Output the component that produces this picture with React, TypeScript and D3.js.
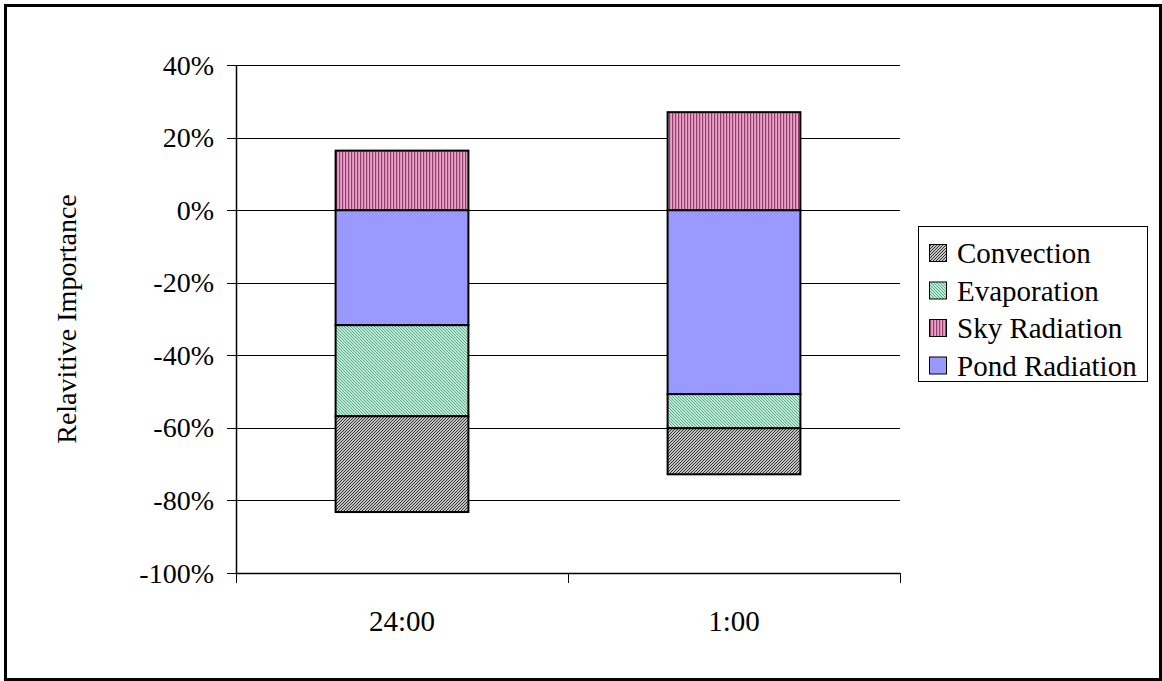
import React from "react";
import * as d3 from "d3";

const categories = ["24:00", "1:00"];
const convection = [-26.4, -12.7];
const evaporation = [-25.1, -9.4];
const skyRadiation = [16.4, 27.0];
const pondRadiation = [-31.7, -50.7];
const yTicks = [40, 20, 0, -20, -40, -60, -80, -100];
const legendItems = ["Convection", "Evaporation", "Sky Radiation", "Pond Radiation"];

const W = 1162;
const H = 681;
const plot = { left: 236, right: 900, top: 65, bottom: 573 };
const FONT = "'Times New Roman', 'Liberation Serif', Times, serif";

type Row = { cat: string; pond: number; evap: number; conv: number; sky: number };
const rows: Row[] = categories.map((c, i) => ({
  cat: c,
  pond: pondRadiation[i],
  evap: evaporation[i],
  conv: convection[i],
  sky: skyRadiation[i],
}));

const keys = ["pond", "evap", "conv", "sky"] as const;
const fills: Record<string, string> = {
  pond: "#9999ff",
  evap: "url(#pEvap)",
  conv: "url(#pConv)",
  sky: "url(#pSky)",
};
const legendFill: Record<string, string> = {
  Convection: "url(#pConv)",
  Evaporation: "url(#pEvap)",
  "Sky Radiation": "url(#pSky)",
  "Pond Radiation": "#9999ff",
};

export default function App() {
  const x = d3.scaleBand<string>().domain(categories).range([plot.left, plot.right]).padding(0);
  const y = d3.scaleLinear().domain([-100, 40]).range([plot.bottom, plot.top]);
  const barW = x.bandwidth() * 0.4;

  const stack = d3
    .stack<Row>()
    .keys(keys as unknown as string[])
    .offset(d3.stackOffsetDiverging);
  const series = stack(rows);

  const catTicks = [plot.left, ...categories.map((c) => (x(c) as number) + x.bandwidth())];
  const textStyle = { fontFamily: FONT };

  return (
    <svg
      width={W}
      height={H}
      style={{ position: "absolute", left: 0, top: 0, background: "#fff", fontFamily: FONT }}
    >
      <defs>
        <pattern id="pConv" width="3" height="3" patternUnits="userSpaceOnUse">
          <rect width="3" height="3" fill="#fff" />
          <path d="M-1,1 l2,-2 M0,3 l3,-3 M2,4 l2,-2" stroke="#2a2a2a" strokeWidth="1.1" />
        </pattern>
        <pattern id="pEvap" width="3" height="3" patternUnits="userSpaceOnUse">
          <rect width="3" height="3" fill="#fff" />
          <path d="M-1,2 l2,2 M0,0 l3,3 M2,-1 l2,2" stroke="#3fae80" strokeWidth="1.1" />
        </pattern>
        <pattern id="pSky" width="3" height="4" patternUnits="userSpaceOnUse">
          <rect width="3" height="4" fill="#e4a6c8" />
          <rect x="0" width="1.2" height="4" fill="#9a3a6c" />
        </pattern>
      </defs>

      <rect x={5.5} y={5.5} width={1155} height={674} fill="#fff" stroke="#000" strokeWidth={3} />

      {/* gridlines */}
      {yTicks.map((t) => (
        <line
          key={"g" + t}
          x1={plot.left}
          x2={plot.right}
          y1={Math.round(y(t)) + 0.5}
          y2={Math.round(y(t)) + 0.5}
          stroke="#000"
          strokeWidth={1}
        />
      ))}

      {/* bars */}
      {series.map((s) =>
        s.map((d, i) => {
          const cat = categories[i];
          const cx = (x(cat) as number) + x.bandwidth() / 2;
          const y0 = y(Math.max(d[0], d[1]));
          const y1 = y(Math.min(d[0], d[1]));
          return (
            <rect
              key={s.key + i}
              x={cx - barW / 2}
              y={y0}
              width={barW}
              height={y1 - y0}
              fill={fills[s.key]}
              stroke="#000"
              strokeWidth={2}
            />
          );
        })
      )}

      {/* y axis */}
      <line x1={plot.left + 0.5} x2={plot.left + 0.5} y1={plot.top} y2={plot.bottom} stroke="#000" strokeWidth={1.5} />
      {yTicks.map((t) => (
        <g key={"t" + t}>
          <line
            x1={plot.left - 9}
            x2={plot.left}
            y1={Math.round(y(t)) + 0.5}
            y2={Math.round(y(t)) + 0.5}
            stroke="#000"
            strokeWidth={1}
          />
          <text
            x={plot.left - 22}
            y={y(t)}
            textAnchor="end"
            dominantBaseline="central"
            fontSize={28}
            fill="#000"
            style={textStyle}
          >
            {t + "%"}
          </text>
        </g>
      ))}

      {/* x axis */}
      <line x1={plot.left} x2={plot.right} y1={plot.bottom + 0.5} y2={plot.bottom + 0.5} stroke="#000" strokeWidth={1.5} />
      {catTicks.map((tx, i) => (
        <line key={"c" + i} x1={tx + 0.5} x2={tx + 0.5} y1={plot.bottom} y2={plot.bottom + 10} stroke="#000" strokeWidth={1} />
      ))}
      {categories.map((c) => (
        <text
          key={c}
          x={(x(c) as number) + x.bandwidth() / 2}
          y={631}
          textAnchor="middle"
          fontSize={29}
          fill="#000"
          style={textStyle}
        >
          {c}
        </text>
      ))}

      {/* y title */}
      <text
        transform={`translate(76, ${(plot.top + plot.bottom) / 2}) rotate(-90)`}
        textAnchor="middle"
        fontSize={28}
        fill="#000"
        style={textStyle}
      >
        Relavitive Importance
      </text>

      {/* legend */}
      <rect x={918.5} y={226.5} width={229} height={155} fill="#fff" stroke="#000" strokeWidth={1} />
      {legendItems.map((name, i) => {
        const cy = 253 + i * 37.5;
        return (
          <g key={name}>
            <rect x={929.5} y={cy - 8.5} width={17} height={17} fill={legendFill[name]} stroke="#000" strokeWidth={1} />
            <text x={957} y={cy} dominantBaseline="central" fontSize={29} fill="#000" style={textStyle}>
              {name}
            </text>
          </g>
        );
      })}
    </svg>
  );
}
